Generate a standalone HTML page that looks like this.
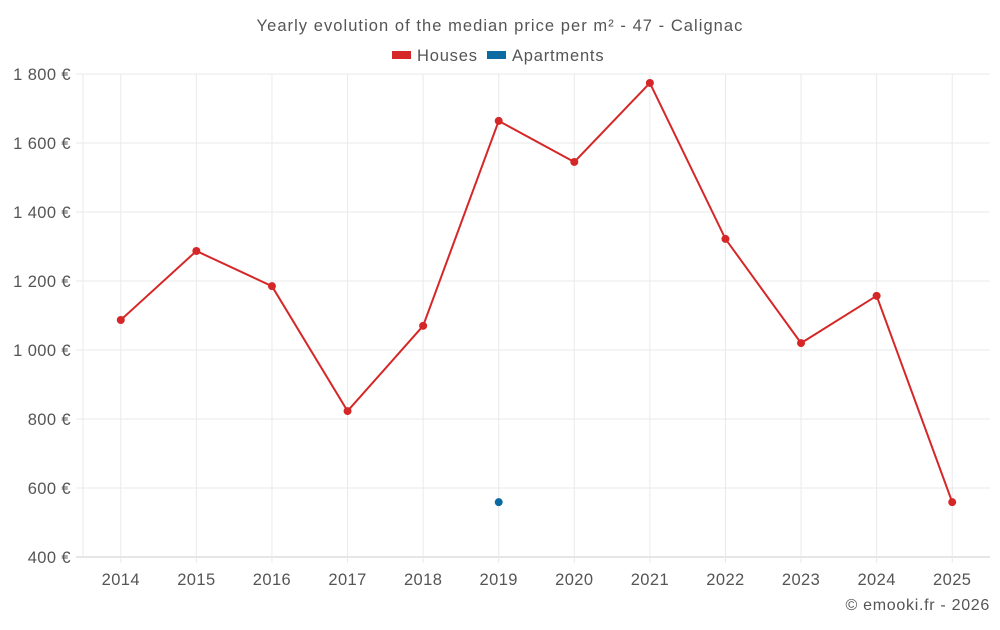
<!DOCTYPE html>
<html><head><meta charset="utf-8"><style>
body{margin:0;background:#fff;font-family:"Liberation Sans",sans-serif}
svg text{font-family:"Liberation Sans",sans-serif;letter-spacing:0.4px}
</style></head><body>
<svg width="1000" height="625" id="c">
<text x="500" y="31" text-anchor="middle" font-size="16.5" fill="#555" style="letter-spacing:1.05px">Yearly evolution of the median price per m² - 47 - Calignac</text>
<g>
<rect x="392" y="51" width="19" height="8" fill="#d62728"/>
<text x="417" y="61" font-size="16.5" fill="#555" style="letter-spacing:0.8px">Houses</text>
<rect x="487" y="51" width="19" height="8" fill="#0a6aa1"/>
<text x="512" y="61" font-size="16.5" fill="#555" style="letter-spacing:0.8px">Apartments</text>
</g>
<text x="990" y="610" text-anchor="end" font-size="16" fill="#555" style="letter-spacing:0.7px">© emooki.fr - 2026</text>
</svg>
<script>
const categories=["2014","2015","2016","2017","2018","2019","2020","2021","2022","2023","2024","2025"];
const houses=[1087,1287,1185,823,1070,1664,1545,1774,1322,1020,1157,559];
const apartments=[null,null,null,null,null,559,null,null,null,null,null,null];
const yTicks=[400,600,800,1000,1200,1400,1600,1800];
const yTickLabels=["400 €","600 €","800 €","1 000 €","1 200 €","1 400 €","1 600 €","1 800 €"];
const svg=document.getElementById('c');const NS='http://www.w3.org/2000/svg';
const L=83,R=990,T=74,B=557,ymin=400,ymax=1800;
const bw=(R-L)/categories.length;
const x=i=>L+bw*(i+0.5);
const y=v=>B-(v-ymin)/(ymax-ymin)*(B-T);
function mk(t,a){const e=document.createElementNS(NS,t);for(const k in a)e.setAttribute(k,a[k]);svg.appendChild(e);return e;}
yTicks.forEach((v,i)=>{
 const g=mk('line',{x1:76,x2:R,y1:y(v),y2:y(v),stroke:i==0?'#ccc':'#eaeaea'});
 
 
 const t=mk('text',{x:71,y:y(v)+6,'text-anchor':'end','font-size':16.5,fill:'#555'});t.textContent=yTickLabels[i];
 
 
});
const lv=mk('line',{x1:L,x2:L,y1:T,y2:B,stroke:'#eaeaea'});


categories.forEach((c,i)=>{
 const g=mk('line',{x1:x(i),x2:x(i),y1:T,y2:B+6,stroke:'#eaeaea'});
 
 
 const t=mk('text',{x:x(i),y:585,'text-anchor':'middle','font-size':16.5,fill:'#555'});t.textContent=c;
 
 
});
const p=mk('polyline',{points:houses.map((v,i)=>x(i)+','+y(v)).join(' '),fill:'none',stroke:'#d62728','stroke-width':2});


houses.forEach((v,i)=>{const d=mk('circle',{cx:x(i),cy:y(v),r:4,fill:'#d62728'});
 
 });
apartments.forEach((v,i)=>{if(v==null)return;const d=mk('circle',{cx:x(i),cy:y(v),r:4,fill:'#0a6aa1'});
 
 });
</script>
</body></html>
